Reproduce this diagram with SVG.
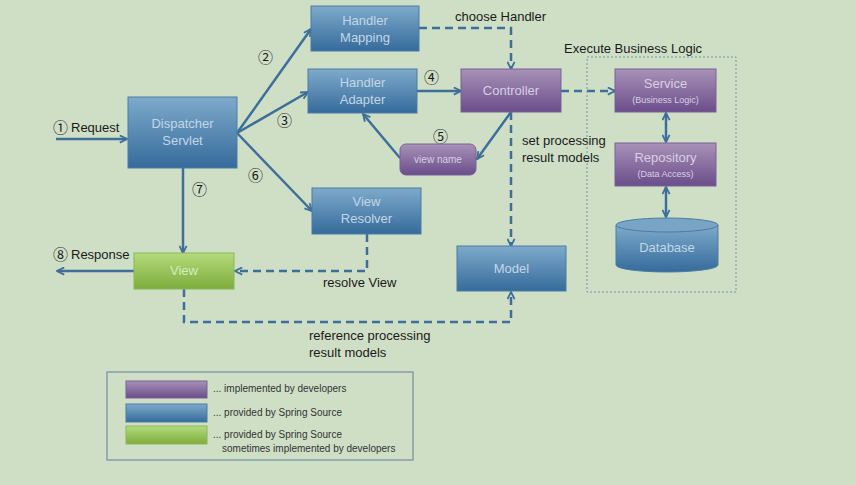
<svg xmlns="http://www.w3.org/2000/svg" width="856" height="485" viewBox="0 0 856 485">
<defs>
  <linearGradient id="gBlue" x1="0" y1="0" x2="0" y2="1">
    <stop offset="0" stop-color="#7eaacb"/>
    <stop offset="1" stop-color="#356b9b"/>
  </linearGradient>
  <linearGradient id="gPurple" x1="0" y1="0" x2="0" y2="1">
    <stop offset="0" stop-color="#a892b8"/>
    <stop offset="1" stop-color="#6a4d8a"/>
  </linearGradient>
  <linearGradient id="gGreen" x1="0" y1="0" x2="0" y2="1">
    <stop offset="0" stop-color="#b4db7c"/>
    <stop offset="1" stop-color="#7dad3c"/>
  </linearGradient>
  <marker id="arr" viewBox="0 0 10 10" refX="9" refY="5" markerWidth="9" markerHeight="9" markerUnits="userSpaceOnUse" orient="auto-start-reverse">
    <path d="M1,1 L9,5 L1,9" fill="none" stroke="#3e6e9a" stroke-width="2"/>
  </marker>
</defs>
<style>
  .bg { fill: #cfdfc6; }
  .blue { fill: url(#gBlue); stroke: #4d7ca4; stroke-width: 1; }
  .purple { fill: url(#gPurple); stroke: #7a6196; stroke-width: 1; }
  .green { fill: url(#gGreen); stroke: #8ab758; stroke-width: 1; }
  .bt { font-family: "Liberation Sans", "DejaVu Sans", sans-serif; font-size: 13px; fill: #c3d6e6; text-anchor: middle; }
  .pt { font-family: "Liberation Sans", "DejaVu Sans", sans-serif; font-size: 13px; fill: #d8cfe2; text-anchor: middle; }
  .gt { font-family: "Liberation Sans", "DejaVu Sans", sans-serif; font-size: 13px; fill: #d7ecbf; text-anchor: middle; }
  .small { font-size: 9px; }
  .lbl { font-family: "Liberation Sans", "DejaVu Sans", sans-serif; font-size: 13px; fill: #1a1a1a; }
  .num { font-family: "Noto Sans CJK JP", "DejaVu Sans", sans-serif; font-size: 15px; fill: #1a1a1a; }
  .leg { font-family: "Liberation Sans", "DejaVu Sans", sans-serif; font-size: 10px; fill: #333333; }
  .solid { fill: none; stroke: #3e6e9a; stroke-width: 2.5; }
  .dash { fill: none; stroke: #3e6e9a; stroke-width: 2.5; stroke-dasharray: 8 5; }
</style>
<rect class="bg" x="0" y="0" width="856" height="485"/>

<g id="connectors">
  <path class="solid" d="M56,139 L127,139" marker-end="url(#arr)"/>
  <path class="solid" d="M237,133 L311,29" marker-end="url(#arr)"/>
  <path class="solid" d="M237,133 L308,92" marker-end="url(#arr)"/>
  <path class="solid" d="M237,133 L312,211" marker-end="url(#arr)"/>
  <path class="solid" d="M183,168 L183,253" marker-end="url(#arr)"/>
  <path class="solid" d="M134,271 L57,271" marker-end="url(#arr)"/>
  <path class="solid" d="M417,91 L461,91" marker-end="url(#arr)"/>
  <path class="dash" d="M419,28 L511,28 L511,69" marker-end="url(#arr)"/>
  <path class="solid" d="M511,112 L477,159" marker-end="url(#arr)"/>
  <path class="solid" d="M400,158 L363,114" marker-end="url(#arr)"/>
  <path class="dash" d="M511,112 L511,246" marker-end="url(#arr)"/>
  <path class="dash" d="M561,91 L615,91" marker-end="url(#arr)"/>
  <path class="solid" d="M666,113 L666,142" marker-start="url(#arr)" marker-end="url(#arr)"/>
  <path class="solid" d="M666,187 L666,217" marker-start="url(#arr)" marker-end="url(#arr)"/>
  <path class="dash" d="M367,234 L367,271 L235,271" marker-end="url(#arr)"/>
  <path class="dash" d="M184,289 L184,322 L511,322 L511,292" marker-end="url(#arr)"/>
</g>

<g id="labels">
  <text class="num" x="53" y="133">①</text>
  <text class="lbl" x="71" y="132">Request</text>
  <text class="num" x="258" y="63">②</text>
  <text class="num" x="277" y="126">③</text>
  <text class="num" x="424" y="83">④</text>
  <text class="num" x="433" y="142">⑤</text>
  <text class="num" x="248" y="181">⑥</text>
  <text class="num" x="192" y="195">⑦</text>
  <text class="num" x="53" y="260">⑧</text>
  <text class="lbl" x="71" y="259">Response</text>
  <text class="lbl" x="455" y="21">choose Handler</text>
  <text class="lbl" x="522" y="145">set processing</text>
  <text class="lbl" x="522" y="162">result models</text>
  <text class="lbl" x="323" y="287">resolve View</text>
  <text class="lbl" x="309" y="340">reference processing</text>
  <text class="lbl" x="309" y="357">result models</text>
  <text class="lbl" x="564" y="53">Execute Business Logic</text>
</g>

<g id="business-logic-group">
  <rect x="587" y="57" width="149" height="235" fill="none" stroke="#6f97ae" stroke-width="1" stroke-dasharray="2 2"/>
</g>

<g id="dispatcher-servlet">
  <rect class="blue" x="128" y="97" width="109" height="71"/>
  <text class="bt" x="182.5" y="128">Dispatcher</text>
  <text class="bt" x="182.5" y="145">Servlet</text>
</g>
<g id="handler-mapping">
  <rect class="blue" x="311" y="6" width="108" height="45"/>
  <text class="bt" x="365" y="25">Handler</text>
  <text class="bt" x="365" y="42">Mapping</text>
</g>
<g id="handler-adapter">
  <rect class="blue" x="308" y="69" width="109" height="44"/>
  <text class="bt" x="362.5" y="87">Handler</text>
  <text class="bt" x="362.5" y="104">Adapter</text>
</g>
<g id="controller">
  <rect class="purple" x="461" y="69" width="100" height="43"/>
  <text class="pt" x="511" y="95">Controller</text>
</g>
<g id="view-name">
  <rect class="purple" x="400" y="144" width="76" height="31" rx="6"/>
  <text class="pt" x="438" y="163" style="font-size:10px">view name</text>
</g>
<g id="view-resolver">
  <rect class="blue" x="312" y="188" width="109" height="46"/>
  <text class="bt" x="366.5" y="206">View</text>
  <text class="bt" x="366.5" y="223">Resolver</text>
</g>
<g id="view">
  <rect class="green" x="134" y="253" width="100" height="36"/>
  <text class="gt" x="184" y="275">View</text>
</g>
<g id="model">
  <rect class="blue" x="457" y="246" width="109" height="45"/>
  <text class="bt" x="511.5" y="273">Model</text>
</g>
<g id="service">
  <rect class="purple" x="615" y="69" width="101" height="43"/>
  <text class="pt" x="665.5" y="88">Service</text>
  <text class="pt small" x="665.5" y="103">(Business Logic)</text>
</g>
<g id="repository">
  <rect class="purple" x="615" y="143" width="101" height="43"/>
  <text class="pt" x="665.5" y="162">Repository</text>
  <text class="pt small" x="665.5" y="177">(Data Access)</text>
</g>
<g id="database">
  <path d="M616,225 L616,265 A51,7 0 0 0 718,265 L718,225" fill="url(#gBlue)" stroke="#4d7ca4" stroke-width="1"/>
  <ellipse cx="667" cy="225" rx="51" ry="7" fill="#78a5c6" stroke="#4d7ca4" stroke-width="1"/>
  <text class="bt" x="667" y="252">Database</text>
</g>

<g id="legend">
  <rect x="107" y="372" width="306" height="88" fill="none" stroke="#6f8fa0" stroke-width="1.2"/>
  <rect class="purple" x="126" y="381" width="81" height="17"/>
  <rect class="blue" x="126" y="404" width="81" height="18"/>
  <rect class="green" x="126" y="426" width="81" height="18"/>
  <text class="leg" x="213" y="392">... implemented by developers</text>
  <text class="leg" x="213" y="416">... provided by Spring Source</text>
  <text class="leg" x="213" y="438">... provided by Spring Source</text>
  <text class="leg" x="222" y="452">sometimes implemented by developers</text>
</g>
</svg>
